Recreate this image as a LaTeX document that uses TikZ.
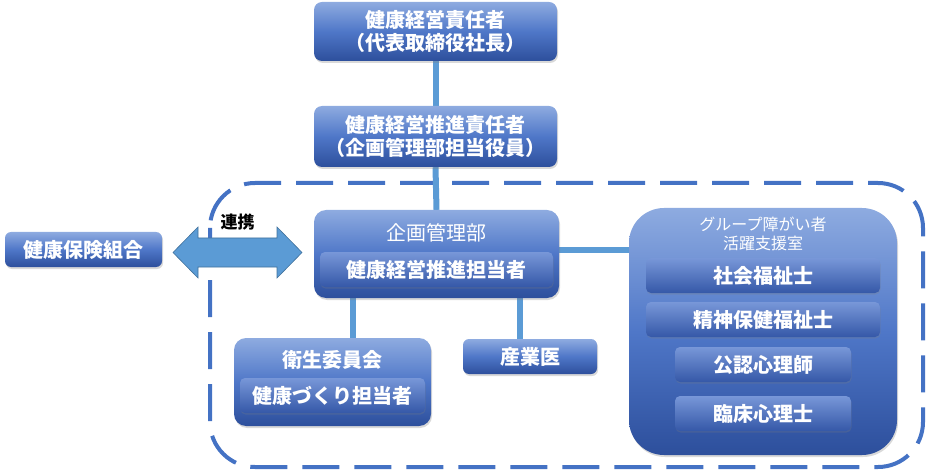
\documentclass[tikz,border=0pt]{standalone}
\usepackage{fontspec}
\setmainfont{Noto Sans CJK JP}
\usetikzlibrary{shadows,calc}
\pgfdeclarelayer{bg}
\pgfsetlayers{bg,main}
\definecolor{gtop}{HTML}{8EABE0}
\definecolor{gmid}{HTML}{4F77C8}
\definecolor{gbot}{HTML}{2D4F9C}
\definecolor{itop}{HTML}{7897D8}
\definecolor{ibot}{HTML}{3558A8}
\definecolor{connc}{HTML}{5B9BD5}
\definecolor{dashc}{HTML}{4472C4}
\definecolor{arrowline}{HTML}{41719C}
\tikzset{
  outerbox/.style={rounded corners=8pt, top color=gtop, bottom color=gbot, middle color=gmid,
    draw=none, text=white, align=center, inner sep=0pt,
    drop shadow={opacity=0.3, shadow xshift=1pt, shadow yshift=-2pt}},
  innerbox/.style={rounded corners=5pt, top color=itop, bottom color=ibot,
    draw=none, text=white, align=center, inner sep=0pt,
    font=\bfseries\fontsize{20}{23}\selectfont,
    drop shadow={opacity=0.25, shadow xshift=0.5pt, shadow yshift=-1.5pt}},
  boldtxt/.style={font=\bfseries\fontsize{20}{23}\selectfont},
  plaintxt/.style={text=white, font=\fontsize{20}{23}\selectfont, inner sep=0pt},
  connline/.style={draw=connc, line width=6pt},
}
\begin{document}
\begin{tikzpicture}[x=1pt,y=-1pt]
\useasboundingbox (0,0) rectangle (928,470);

% nodes
\node[outerbox, boldtxt, minimum width=243pt, minimum height=59pt] (ceo) at (435.5,31.5) {健康経営責任者\\（代表取締役社長）};
\node[outerbox, boldtxt, minimum width=243pt, minimum height=61pt] (promo) at (435.5,136.5) {健康経営推進責任者\\（企画管理部担当役員）};
\node[outerbox, minimum width=245pt, minimum height=88pt, rounded corners=12pt] (kikaku) at (436.5,254) {};
\node[plaintxt] (kikakut) at (436.5,233) {企画管理部};
\node[innerbox, minimum width=233pt, minimum height=35pt] (suishin) at (436.5,269.5) {健康経営推進担当者};

\node[outerbox, minimum width=268pt, minimum height=247pt, rounded corners=35pt] (room) at (763,331.5) {};
\node[text=white, align=center, inner sep=0pt, font=\fontsize{16}{19}\selectfont] (roomt) at (763,233.5) {グループ障がい者\\活躍支援室};
\node[innerbox, minimum width=234pt, minimum height=35pt] (sw) at (763,275.5) {社会福祉士};
\node[innerbox, minimum width=234pt, minimum height=35pt] (psw) at (763,319.5) {精神保健福祉士};
\node[innerbox, minimum width=176pt, minimum height=35pt] (cpp) at (763,364.5) {公認心理師};
\node[innerbox, minimum width=176pt, minimum height=35pt] (cp) at (763,413.5) {臨床心理士};

\node[outerbox, boldtxt, minimum width=157pt, minimum height=35pt, rounded corners=6pt] (kenpo) at (83.5,249.5) {健康保険組合};

\node[outerbox, minimum width=197pt, minimum height=88pt, rounded corners=12pt] (eisei) at (332.5,382) {};
\node[plaintxt, font=\bfseries\fontsize{20}{23}\selectfont] (eiseit) at (332.5,360) {衛生委員会};
\node[innerbox, minimum width=185pt, minimum height=35pt] (zukuri) at (332.5,395.5) {健康づくり担当者};

\node[outerbox, boldtxt, minimum width=134pt, minimum height=35pt, rounded corners=6pt] (sangyo) at (530,356.5) {産業医};

% connectors and dashed region behind the boxes
\coordinate (xa) at (353,0);
\coordinate (xb) at (520,0);
\coordinate (ya) at (0,250);
\begin{pgfonlayer}{bg}
\draw[dashc, line width=4pt, dash pattern=on 37pt off 15pt, rounded corners=45pt] (210,183) rectangle (923,467);
\draw[connline] (ceo.south) -- (promo.north);
\draw[connline] (promo.south) -- (kikaku.north);
\draw[connline] (kikaku.east |- ya) -- (room.west |- ya);
\draw[connline] (kikaku.south -| xa) -- (eisei.north -| xa);
\draw[connline] (kikaku.south -| xb) -- (sangyo.north -| xb);
\end{pgfonlayer}

% double arrow (連携)
\coordinate (al) at (173,252.5);
\coordinate (ar) at (302,252.5);
\draw[fill=connc, draw=arrowline, line width=0.6pt]
  (al) -- (198,227) -- (198,238) -- (277,238) -- (277,227) -- (ar)
  -- (277,278) -- (277,267) -- (198,267) -- (198,278) -- cycle;
\node[font=\bfseries\fontsize{17}{20}\selectfont, inner sep=0pt] (renkei) at (237.5,222) {連携};
\end{tikzpicture}
\end{document}
